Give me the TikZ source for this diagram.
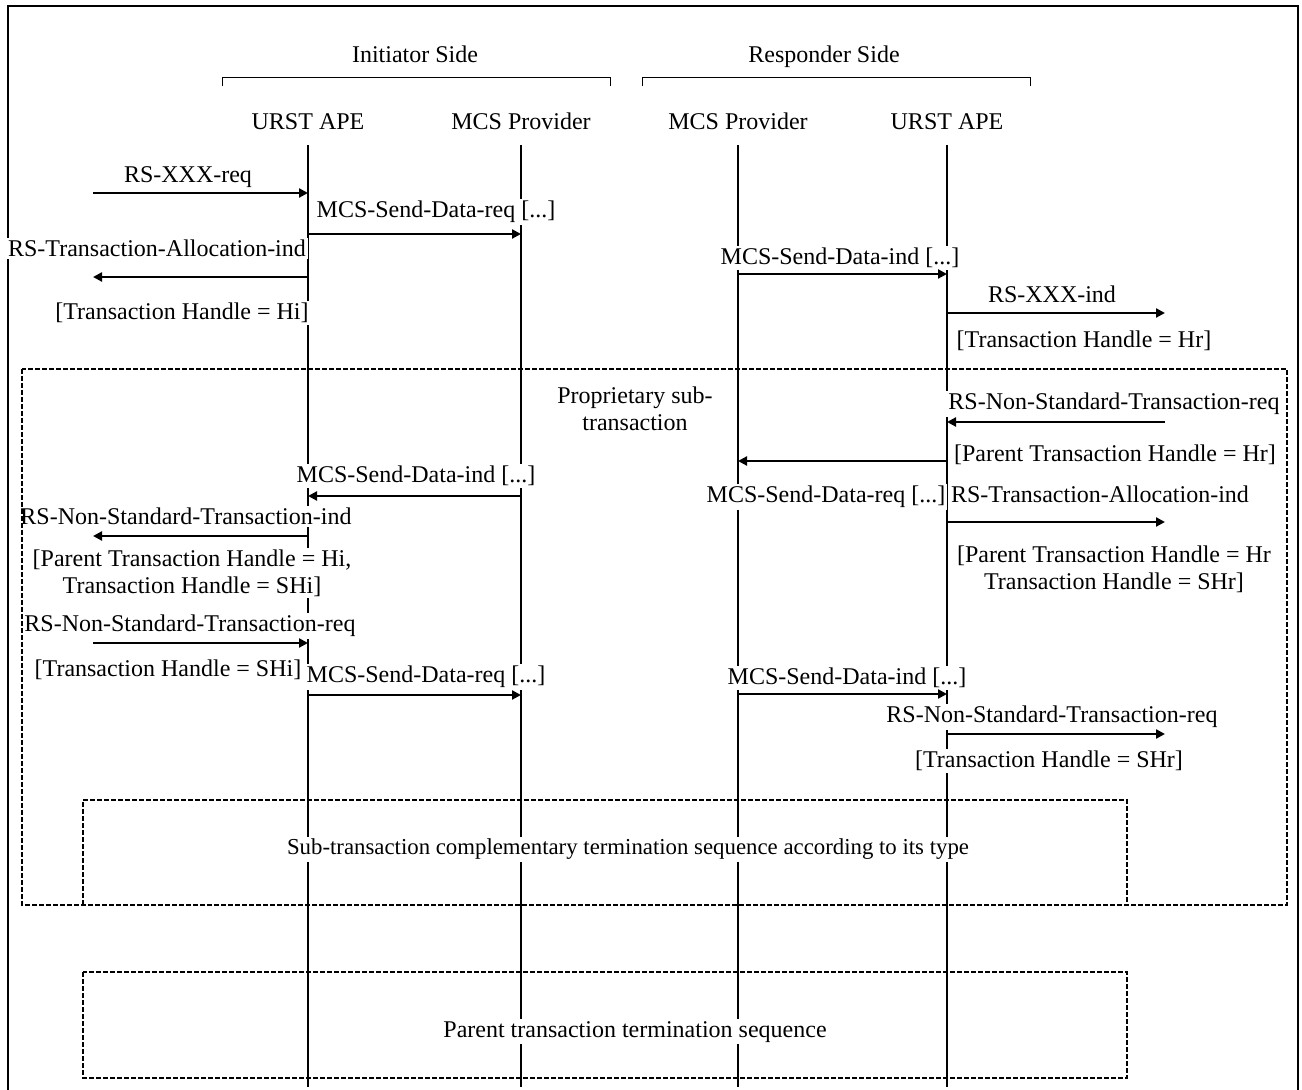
\documentclass[tikz,border=0pt]{standalone}
\usepackage{fontspec}
\setmainfont{Liberation Serif}
\usetikzlibrary{arrows.meta}
\begin{document}
\begin{tikzpicture}[x=.5pt, y=-.5pt,
  every node/.style={font=\fontsize{12}{13.5}\selectfont},
  lab/.style={fill=white, inner sep=1pt, anchor=base},
  life/.style={line width=.8pt},
  msg/.style={line width=1.1pt, -{Triangle[length=4.5pt, width=4.5pt]}},
  seq/.style={line width=.9pt, dash pattern=on 2.5pt off 1pt}]
\useasboundingbox (0,0) rectangle (1302,1090);
\draw[line width=.8pt] (8,1090) -- (8,6) -- (1298,6) -- (1298,1090);
\node[lab] (init) at (415,63) {Initiator Side};
\node[lab] (resp) at (824,63) {Responder Side};
\draw (222,86) -- (222,77) -- (610,77) -- (610,86);
\draw (642,86) -- (642,77) -- (1030,77) -- (1030,86);
\node[lab] (iape) at (308,130) {URST APE};
\node[lab] (imcs) at (521,130) {MCS Provider};
\node[lab] (rmcs) at (738,130) {MCS Provider};
\node[lab] (rape) at (947,130) {URST APE};
\coordinate (top) at (0,145);
\coordinate (bot) at (0,1087);
\coordinate (lo) at (93,0);
\coordinate (ro) at (1165,0);
\foreach \n in {iape,imcs,rmcs,rape}
  \draw[life] (\n |- top) -- (\n |- bot);
\node[lab] (xreq) at (188,183) {RS-XXX-req};
\node[lab] (sdreq1) at (436,218) {MCS-Send-Data-req [...]};
\node[lab] (allocI) at (157,257) {RS-Transaction-Allocation-ind};
\node[lab] (hi) at (182,320) {[Transaction Handle = Hi]};
\node[lab] (sdind1) at (840,265) {MCS-Send-Data-ind [...]};
\node[lab] (xind) at (1052,303) {RS-XXX-ind};
\node[lab] (hr) at (1084,348) {[Transaction Handle = Hr]};
\node[lab, anchor=center, align=center] (prop) at (635,409) {Proprietary sub-\\transaction};
\node[lab] (nsreqR) at (1114,410) {RS-Non-Standard-Transaction-req};
\node[lab] (phr) at (1115,462) {[Parent Transaction Handle = Hr]};
\node[lab] (sdreq2) at (826,503) {MCS-Send-Data-req [...]};
\node[lab] (sdind2) at (416,483) {MCS-Send-Data-ind [...]};
\node[lab] (allocR) at (1100,503) {RS-Transaction-Allocation-ind};
\node[lab, anchor=center, align=center] (shr) at (1114,569) {[Parent Transaction Handle = Hr\\Transaction Handle = SHr]};
\node[lab] (nsind) at (186,525) {RS-Non-Standard-Transaction-ind};
\node[lab, anchor=center, align=center] (shi) at (192,573) {[Parent Transaction Handle = Hi,\\Transaction Handle = SHi]};
\node[lab] (nsreqI) at (190,632) {RS-Non-Standard-Transaction-req};
\node[lab] (shi2) at (168,677) {[Transaction Handle = SHi]};
\node[lab] (sdreq3) at (426,683) {MCS-Send-Data-req [...]};
\node[lab] (sdind3) at (847,685) {MCS-Send-Data-ind [...]};
\node[lab] (nsreqR2) at (1052,723) {RS-Non-Standard-Transaction-req};
\node[lab] (shr2) at (1049,768) {[Transaction Handle = SHr]};
\node[lab, font=\fontsize{11.4}{13}\selectfont] (subterm) at (628,855) {Sub-transaction complementary termination sequence according to its type};
\node[lab] (parterm) at (635,1037) {Parent transaction termination sequence};
\draw[seq] (22,369) rectangle (1287,905);
\draw[seq] (83,905) -- (83,800) -- (1127,800) -- (1127,905);
\draw[seq] (83,972) rectangle (1127,1078);
\foreach \a/\b/\y in {lo/iape/193, iape/imcs/234, iape/lo/277, rmcs/rape/274, rape/ro/313,
    ro/rape/422, rape/rmcs/461, imcs/iape/496, rape/ro/522, iape/lo/536,
    lo/iape/643, iape/imcs/695, rmcs/rape/694, rape/ro/734}
  {\coordinate (m) at (0,\y);
   \draw[msg] (\a |- m) -- (\b |- m);}
\end{tikzpicture}
\end{document}
